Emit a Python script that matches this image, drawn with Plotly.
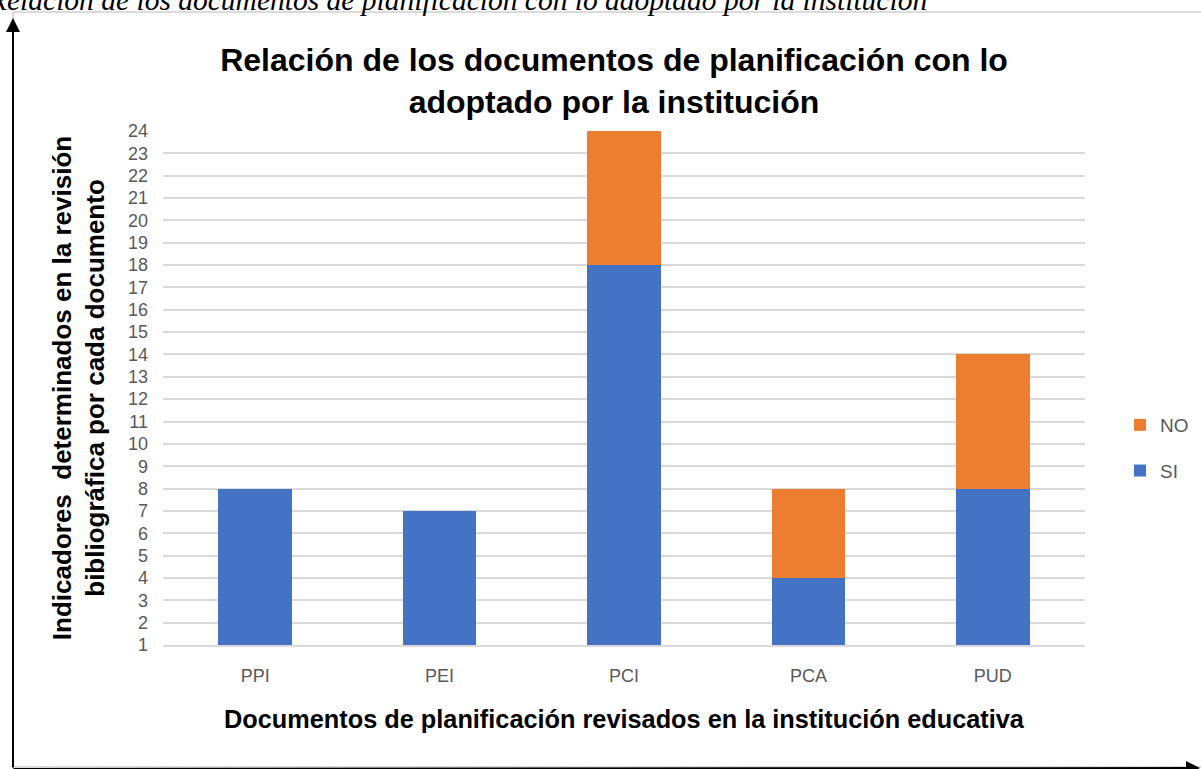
import plotly.graph_objects as go

categories = ["PPI", "PEI", "PCI", "PCA", "PUD"]
si_values = [8, 7, 18, 4, 8]
no_values = [0, 0, 6, 4, 6]
y_ticks = list(range(1, 25))

W, H = 1201, 769
L, R, T, B = 163, 1085, 131, 645
pw, ph = R - L, B - T

def px(x):
    return (x - L) / pw

def py(y):
    return (B - y) / ph

fig = go.Figure()
fig.add_trace(go.Bar(name="SI", x=categories, y=si_values, marker_color="#4472C4",
                     marker_line_width=0, legendgroup="si", legendrank=2))
fig.add_trace(go.Bar(name="NO", x=categories, y=no_values, marker_color="#ED7D31",
                     marker_line_width=0, legendgroup="no", legendrank=1))

fig.update_layout(
    width=W, height=H,
    barmode="stack", bargap=0.6,
    margin=dict(l=L, r=W - R, t=T, b=H - B, autoexpand=False),
    paper_bgcolor="white", plot_bgcolor="white",
    font=dict(family="Liberation Sans, Arial, sans-serif", color="#595959"),
    title=dict(text="Relación de los documentos de planificación con lo<br>adoptado por la institución",
               xref="container", x=614 / W, xanchor="center", y=1 - 71 / H, yanchor="middle",
               font=dict(size=32, color="black", family="Liberation Sans, Arial, sans-serif",
                         weight="bold")),
    legend=dict(x=px(1120), y=py(448), xanchor="left", yanchor="middle",
                traceorder="grouped", font=dict(size=19, color="#595959"),
                itemwidth=30, tracegroupgap=18, bgcolor="rgba(0,0,0,0)"),
    showlegend=True,
)

fig.update_yaxes(range=[1, 24], tickvals=y_ticks, ticktext=[str(v) for v in y_ticks],
                 showgrid=True, gridcolor="#D9D9D9", gridwidth=1.5, zeroline=False,
                 showline=False, tickfont=dict(size=18, color="#595959"),
                 ticks="", ticklen=0, automargin=False, ticklabelstandoff=14,
                 title=dict(text="Indicadores  determinados en la revisión<br>bibliográfica por cada documento",
                            font=dict(size=26, color="black", weight="bold"), standoff=15))
fig.update_xaxes(showgrid=False, showline=True, linecolor="#D9D9D9", linewidth=1.5,
                 tickfont=dict(size=18, color="#595959"), ticks="", automargin=False,
                 ticklabelstandoff=14,
                 title=dict(text="Documentos de planificación revisados en la institución educativa",
                            font=dict(size=25.3, color="black", weight="bold"), standoff=25))

# outer chart border
fig.add_shape(type="rect", xref="paper", yref="paper",
              x0=px(13), x1=px(1215), y0=py(767), y1=py(12),
              line=dict(color="#D0D0D0", width=1.5), layer="below")

# axes arrows
fig.add_annotation(xref="paper", yref="paper", x=px(13), y=py(18), ax=0, ay=760,
                   axref="pixel", ayref="pixel", text="", showarrow=True,
                   arrowhead=2, arrowsize=1.4, arrowwidth=2, arrowcolor="black")
fig.add_annotation(xref="paper", yref="paper", x=px(1202), y=py(773), ax=-1190, ay=0,
                   axref="pixel", ayref="pixel", text="", showarrow=True,
                   arrowhead=2, arrowsize=1.4, arrowwidth=2, arrowcolor="black")

# caption (cut off at top)
fig.add_annotation(xref="paper", yref="paper", x=px(457), y=py(18), xanchor="center",
                   yanchor="bottom", text="<i>Relación de los documentos de planificación con lo adoptado por la institución</i>",
                   showarrow=False, font=dict(size=29.5, color="black",
                                              family="Liberation Serif, Times New Roman, serif"))

fig.write_html("out.html", config={"displayModeBar": False},
               post_script="document.body.style.margin='0';document.body.style.overflow='hidden';")
